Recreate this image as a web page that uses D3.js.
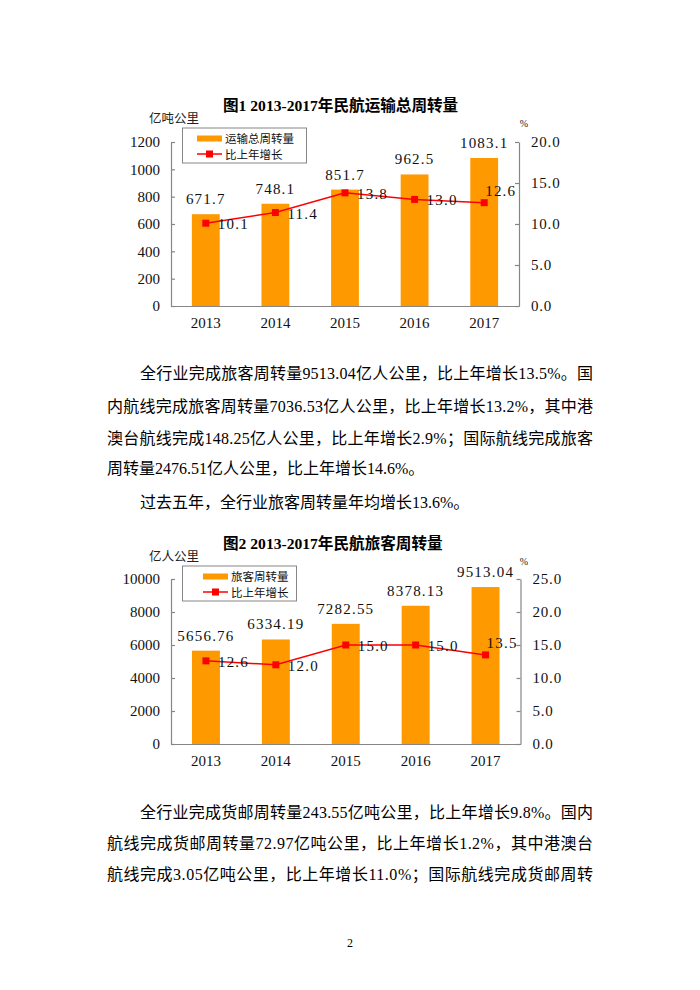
<!DOCTYPE html>
<html>
<head>
<meta charset="utf-8">
<script src="https://cdn.jsdelivr.net/npm/d3@7"></script>
<style>
  html, body { margin: 0; padding: 0; background: #fff; }
  svg { display: block; }
</style>
</head>
<body>
<script>
'use strict';

// chart data
var years = ['2013', '2014', '2015', '2016', '2017'];
var totalTurnover = [671.7, 748.1, 851.7, 962.5, 1083.1];
var totalGrowth = [10.1, 11.4, 13.8, 13.0, 12.6];
var passengerTurnover = [5656.76, 6334.19, 7282.55, 8378.13, 9513.04];
var passengerGrowth = [12.6, 12.0, 15.0, 15.0, 13.5];

var totalLeftTicks = [0, 200, 400, 600, 800, 1000, 1200];
var totalRightTicks = [0, 5, 10, 15, 20];
var passengerLeftTicks = [0, 2000, 4000, 6000, 8000, 10000];
var passengerRightTicks = [0, 5, 10, 15, 20, 25];

// page text
var para1 = [
    '全行业完成旅客周转量9513.04亿人公里，比上年增长13.5%。国',
    '内航线完成旅客周转量7036.53亿人公里，比上年增长13.2%，其中港',
    '澳台航线完成148.25亿人公里，比上年增长2.9%；国际航线完成旅客',
    '周转量2476.51亿人公里，比上年增长14.6%。'
];
var para2 = ['过去五年，全行业旅客周转量年均增长13.6%。'];
var para3 = [
    '全行业完成货邮周转量243.55亿吨公里，比上年增长9.8%。国内',
    '航线完成货邮周转量72.97亿吨公里，比上年增长1.2%，其中港澳台',
    '航线完成3.05亿吨公里，比上年增长11.0%；国际航线完成货邮周转'
];

var FONT = '"Liberation Serif", "Noto Sans CJK SC", serif';
var SANS = '"Noto Sans CJK SC", "Noto Sans", sans-serif';
var BAR_COLOR = '#FF9900';
var LINE_COLOR = '#FF0000';
var AXIS_COLOR = '#868686';

var svg = d3.select('body').append('svg')
    .attr('width', 700)
    .attr('height', 990);

svg.append('rect').attr('width', 700).attr('height', 990).attr('fill', '#fff');

var drawChart = function(cfg) {
    var g = svg.append('g');
    var L = cfg.layout;

    var x = d3.scaleBand()
        .domain(years)
        .range([L.x0, L.x1])
        .paddingInner(0.6)
        .paddingOuter(0.3);

    var yLeft = d3.scaleLinear()
        .domain([0, d3.max(cfg.leftTicks)])
        .range([L.base, L.top]);

    var yRight = d3.scaleLinear()
        .domain([0, d3.max(cfg.rightTicks)])
        .range([L.base, L.top]);

    // title + units
    g.append('text')
        .attr('x', L.titleX)
        .attr('y', L.titleY)
        .attr('font-family', FONT)
        .attr('font-weight', 'bold')
        .attr('font-size', 15.6)
        .attr('fill', '#000')
        .text(cfg.title);

    g.append('text')
        .attr('x', 149)
        .attr('y', L.unitY)
        .attr('font-family', SANS)
        .attr('font-size', 12.5)
        .attr('fill', '#222')
        .text(cfg.unit);

    g.append('text')
        .attr('x', 524)
        .attr('y', L.pctY)
        .attr('text-anchor', 'middle')
        .attr('font-family', FONT)
        .attr('font-size', 10)
        .attr('fill', '#222')
        .text('%');

    // bars
    g.selectAll('rect.bar')
        .data(cfg.bars)
        .enter().append('rect')
        .attr('class', 'bar')
        .attr('x', function(d, i) { return x(years[i]); })
        .attr('y', function(d) { return yLeft(d); })
        .attr('width', x.bandwidth())
        .attr('height', function(d) { return L.base - yLeft(d); })
        .attr('fill', BAR_COLOR);

    g.selectAll('text.barLabel')
        .data(cfg.bars)
        .enter().append('text')
        .attr('class', 'barLabel')
        .attr('x', function(d, i) { return x(years[i]) + x.bandwidth() / 2; })
        .attr('y', function(d) { return yLeft(d) - 10; })
        .attr('text-anchor', 'middle')
        .attr('font-family', FONT)
        .attr('font-size', 15)
        .attr('letter-spacing', 1.2)
        .attr('fill', '#111')
        .text(cfg.barFormat);

    // axes
    var leftAxis = d3.axisLeft(yLeft)
        .tickValues(cfg.leftTicks)
        .tickSize(-4)
        .tickSizeOuter(0)
        .tickPadding(11)
        .tickFormat(d3.format('d'));

    var rightAxis = d3.axisRight(yRight)
        .tickValues(cfg.rightTicks)
        .tickSize(-4)
        .tickSizeOuter(0)
        .tickPadding(12)
        .tickFormat(function(d) { return d.toFixed(1); });

    var bottomAxis = d3.axisBottom(x)
        .tickSize(0)
        .tickSizeOuter(0)
        .tickPadding(11);

    var styleAxis = function(sel) {
        sel.selectAll('path').attr('stroke', AXIS_COLOR).attr('stroke-width', 1.2);
        sel.selectAll('line').attr('stroke', AXIS_COLOR).attr('stroke-width', 1.2);
        sel.selectAll('text')
            .attr('font-family', FONT)
            .attr('font-size', 15)
            .attr('fill', '#111');
    };

    g.append('g')
        .attr('transform', 'translate(' + L.x0 + ',0)')
        .call(leftAxis)
        .call(styleAxis);

    g.append('g')
        .attr('transform', 'translate(' + L.x1 + ',0)')
        .call(rightAxis)
        .call(styleAxis)
        .selectAll('text').attr('letter-spacing', 0.8);

    g.append('g')
        .attr('transform', 'translate(0,' + L.base + ')')
        .call(bottomAxis)
        .call(styleAxis);

    // growth line
    var cx = function(i) { return x(years[i]) + x.bandwidth() / 2; };

    var line = d3.line()
        .x(function(d, i) { return cx(i); })
        .y(function(d) { return yRight(d); });

    g.append('path')
        .datum(cfg.growth)
        .attr('d', line)
        .attr('fill', 'none')
        .attr('stroke', LINE_COLOR)
        .attr('stroke-width', 1.5);

    g.selectAll('rect.marker')
        .data(cfg.growth)
        .enter().append('rect')
        .attr('class', 'marker')
        .attr('x', function(d, i) { return cx(i) - 3.5; })
        .attr('y', function(d) { return yRight(d) - 3.5; })
        .attr('width', 7)
        .attr('height', 7)
        .attr('fill', LINE_COLOR);

    var last = cfg.growth.length - 1;
    g.selectAll('text.growthLabel')
        .data(cfg.growth)
        .enter().append('text')
        .attr('class', 'growthLabel')
        // the last label sits above the point, the others to its right
        .attr('x', function(d, i) { return i === last ? cx(i) + 1 : cx(i) + 12; })
        .attr('y', function(d, i) { return i === last ? yRight(d) - 7 : yRight(d) + 6; })
        .attr('font-family', FONT)
        .attr('font-size', 15)
        .attr('letter-spacing', 1.2)
        .attr('fill', '#111')
        .text(function(d) { return d.toFixed(1); });

    // legend
    var lg = L.legend;
    var legend = g.append('g');
    legend.append('rect')
        .attr('x', 182.5)
        .attr('y', lg.y)
        .attr('width', lg.w)
        .attr('height', 35)
        .attr('fill', '#fff')
        .attr('stroke', AXIS_COLOR)
        .attr('stroke-width', 1);

    legend.append('rect')
        .attr('x', lg.swX)
        .attr('y', lg.y + 7.5)
        .attr('width', 25)
        .attr('height', 6)
        .attr('fill', BAR_COLOR);

    legend.append('line')
        .attr('x1', lg.swX)
        .attr('x2', lg.swX + 25)
        .attr('y1', lg.y + 26)
        .attr('y2', lg.y + 26)
        .attr('stroke', LINE_COLOR)
        .attr('stroke-width', 1.5);

    legend.append('rect')
        .attr('x', lg.swX + 12.5 - 3.5)
        .attr('y', lg.y + 26 - 3.5)
        .attr('width', 7)
        .attr('height', 7)
        .attr('fill', LINE_COLOR);

    [cfg.barName, cfg.lineName].forEach(function(name, i) {
        legend.append('text')
            .attr('x', lg.swX + 28)
            .attr('y', lg.y + 14.5 + i * 16)
            .attr('font-family', SANS)
            .attr('font-size', 11.5)
            .attr('fill', '#111')
            .text(name);
    });
};

drawChart({
    title: '图1 2013-2017年民航运输总周转量',
    unit: '亿吨公里',
    barName: '运输总周转量',
    lineName: '比上年增长',
    bars: totalTurnover,
    growth: totalGrowth,
    leftTicks: totalLeftTicks,
    rightTicks: totalRightTicks,
    barFormat: function(d) { return d.toFixed(1); },
    layout: {
        x0: 171, x1: 519, top: 142, base: 306,
        titleX: 223, titleY: 111, unitY: 123, pctY: 127,
        legend: {y: 128, w: 124, swX: 197}
    }
});

drawChart({
    title: '图2 2013-2017年民航旅客周转量',
    unit: '亿人公里',
    barName: '旅客周转量',
    lineName: '比上年增长',
    bars: passengerTurnover,
    growth: passengerGrowth,
    leftTicks: passengerLeftTicks,
    rightTicks: passengerRightTicks,
    barFormat: function(d) { return d.toFixed(2); },
    layout: {
        x0: 171, x1: 520.5, top: 579, base: 744,
        titleX: 223, titleY: 549, unitY: 561, pctY: 565,
        legend: {y: 566, w: 114, swX: 203}
    }
});

// body text, justified lines get a fixed length
var drawPara = function(lines, baselines, justifyCount, indentFirst) {
    lines.forEach(function(str, i) {
        var x0 = (i === 0 && indentFirst) ? 140 : 107;
        var t = svg.append('text')
            .attr('x', x0)
            .attr('y', baselines[i])
            .attr('font-family', FONT)
            .attr('font-size', 16)
            .attr('fill', '#000')
            .text(str);
        if (i < justifyCount) {
            t.attr('textLength', 593 - x0).attr('lengthAdjust', 'spacing');
        }
    });
};

drawPara(para1, [379, 412, 444, 474], 3, true);
drawPara(para2, [508], 0, true);
drawPara(para3, [818, 849, 880], 3, true);

svg.append('text')
    .attr('x', 350)
    .attr('y', 947)
    .attr('text-anchor', 'middle')
    .attr('font-family', FONT)
    .attr('font-size', 12)
    .attr('fill', '#000')
    .text('2');
</script>
</body>
</html>
